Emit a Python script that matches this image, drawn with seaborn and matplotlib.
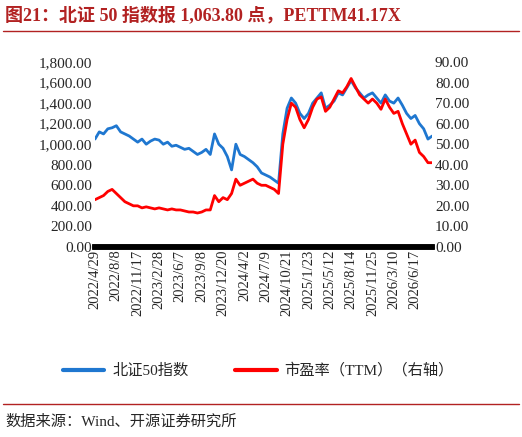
import matplotlib
matplotlib.use("Agg")
import matplotlib.pyplot as plt
import seaborn as sns
import numpy as np

sns.set_style("white")
FAM = ['Liberation Serif', 'Noto Sans CJK SC']
plt.rcParams['font.family'] = FAM

tick_labels = ["2022/4/29","2022/8/8","2022/11/17","2023/2/28","2023/6/7","2023/9/8",
               "2023/12/20","2024/4/2","2024/7/9","2024/10/21","2025/1/23","2025/5/12",
               "2025/8/14","2025/11/25","2026/3/10","2026/6/17"]
index_vals = [1050,1120,1100,1150,1160, 1180,1120,1100,1080,1050, 1020,1050,1000,1030,1050,
              1040,1000,1020,980,990, 970,950,960,930,900, 920,950,900,1100,1000,
              960,880,750,1000,900, 880,850,820,780,720, 700,680,650,620,1100,
              1350,1450,1400,1300,1250, 1300,1400,1450,1500,1350, 1380,1420,1500,1480,1550,
              1620,1550,1500,1450,1480, 1500,1450,1400,1480,1420, 1400,1450,1380,1300,1250,
              1280,1200,1150,1050,1080]
pe_vals = [23,24,25,27,28, 26,24,22,21,20, 20,19,19.5,19,18.5, 19,18.5,18,18.5,18,
           18,17.5,17,17,16.5, 17,18,18,25,22, 24,23,26,33,30, 31,32,33,31,30,
           30,29,28,26,50, 62,70,68,62,58, 62,68,72,73,66, 68,72,76,75,78,
           82,78,74,72,70, 72,70,67,72,68, 65,66,60,55,50, 52,46,44,41,41]
x = np.arange(len(index_vals))

fig = plt.figure(figsize=(5.22, 4.37), dpi=100)
ax = fig.add_axes([0.182, 0.435, 0.646, 0.423])
ax2 = ax.twinx()
sns.lineplot(x=x, y=index_vals, ax=ax, color="#1F77D0", lw=2)
sns.lineplot(x=x, y=pe_vals, ax=ax2, color="#FF0000", lw=2)
ax.set_xlim(0, len(x) - 1)
ax.set_ylim(0, 1800); ax2.set_ylim(0, 90)
ax.set_yticks(np.arange(0, 1801, 200)); ax2.set_yticks(np.arange(0, 91, 10))
ax.set_yticklabels([f"{v:,.2f}" for v in range(0, 1801, 200)], fontsize=11)
ax2.set_yticklabels([f"{v:.2f}" for v in range(0, 91, 10)], fontsize=11)
ax.set_xticks(np.arange(0, 5 * len(tick_labels), 5))
ax.set_xticklabels(tick_labels, rotation=90, fontsize=10.5)
for a in (ax, ax2):
    for s in ("top", "right", "left"):
        a.spines[s].set_visible(False)
    a.spines["bottom"].set_linewidth(4)
    a.spines["bottom"].set_color("black")
    a.tick_params(length=0, pad=2)

fig.text(0.01, 0.965, "图21：北证 50 指数报 1,063.80 点，PETTM41.17X", fontsize=13,
         fontweight="bold", color="#B22222", va="center", family=FAM)
fig.add_artist(plt.Line2D([0.005, 0.995], [0.93, 0.93], color="#B22222", lw=1))
fig.add_artist(plt.Line2D([0.005, 0.995], [0.075, 0.075], color="#B22222", lw=1))
fig.text(0.01, 0.035, "数据来源：Wind、开源证券研究所", fontsize=11, va="center", family=FAM)

fig.add_artist(plt.Line2D([0.12, 0.2], [0.153, 0.153], color="#1F77D0", lw=3))
fig.text(0.215, 0.153, "北证50指数", fontsize=11, va="center", family=FAM)
fig.add_artist(plt.Line2D([0.45, 0.53], [0.153, 0.153], color="#FF0000", lw=3))
fig.text(0.545, 0.153, "市盈率（TTM）（右轴）", fontsize=11, va="center", family=FAM)

fig.savefig("out.png", dpi=100)
